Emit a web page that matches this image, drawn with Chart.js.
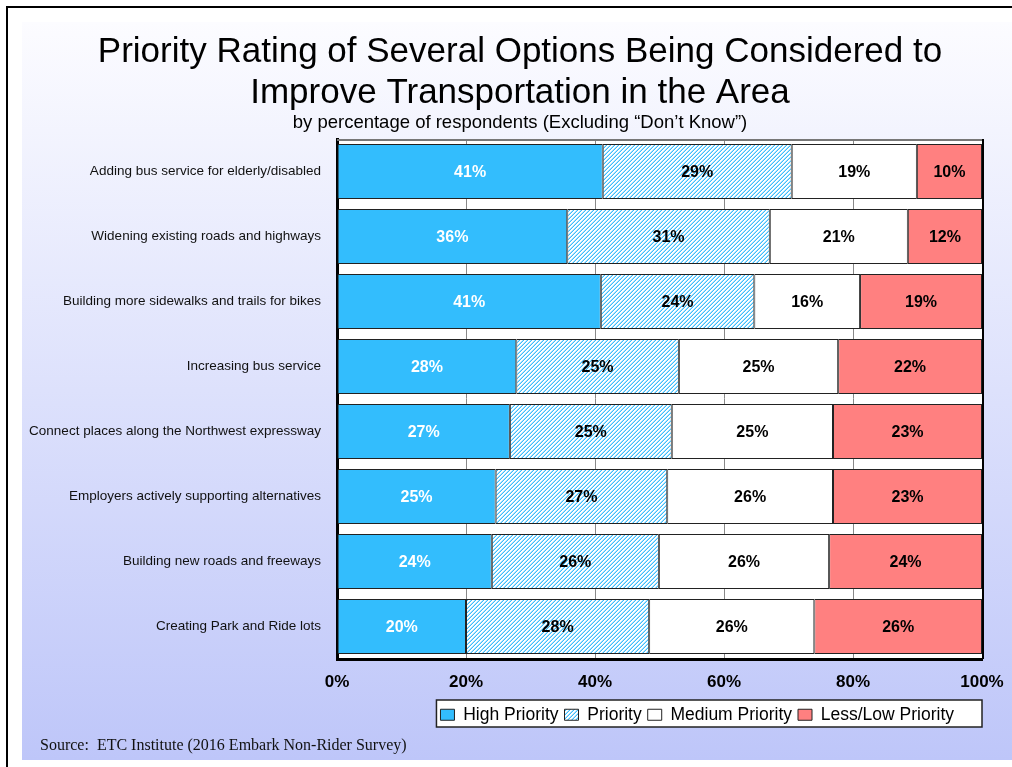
<!DOCTYPE html>
<html><head><meta charset="utf-8">
<script src="https://cdn.jsdelivr.net/npm/chart.js@4.4.1/dist/chart.umd.min.js"></script>
<style>html,body{margin:0;padding:0;background:#fff;}#wrap{width:1012px;height:767px;position:relative;}</style>
</head><body><div id="wrap"><canvas id="c" width="1012" height="767"></canvas></div>
<script>
const categories = [
  'Adding bus service for elderly/disabled',
  'Widening existing roads and highways',
  'Building more sidewalks and trails for bikes',
  'Increasing bus service',
  'Connect places along the Northwest expressway',
  'Employers actively supporting alternatives',
  'Building new roads and freeways',
  'Creating Park and Ride lots'
];
const highPriority   = [41.2, 35.7, 40.9, 27.8, 26.8, 24.6, 24.0, 20.0];
const priority       = [29.3, 31.4, 23.8, 25.2, 25.1, 26.6, 25.9, 28.4];
const mediumPriority = [19.4, 21.4, 16.4, 24.7, 25.0, 25.7, 26.4, 25.6];
const lowPriority    = [10.1, 11.5, 18.9, 22.3, 23.1, 23.1, 23.7, 26.0];
const seriesNames = ['High Priority', 'Priority', 'Medium Priority', 'Less/Low Priority'];
const xTickValues = [0, 20, 40, 60, 80, 100];
const titleLines = ['Priority Rating of Several Options Being Considered to', 'Improve Transportation in the Area'];
const subtitleText = 'by percentage of respondents (Excluding \u201cDon\u2019t Know\u201d)';
const sourceText = 'Source:  ETC Institute (2016 Embark Non-Rider Survey)';

const SANS = '"Liberation Sans", Arial, sans-serif';
const SERIF = '"Liberation Serif", "Times New Roman", serif';

function makeHatch() {
  const c = document.createElement('canvas');
  c.width = 4; c.height = 4;
  const x = c.getContext('2d');
  for (let i = 0; i < 4; i++) {
    for (let j = 0; j < 4; j++) {
      const k = (i + j) % 4;
      x.fillStyle = k === 3 ? '#3dbdfb' : (k === 2 ? '#a8e1ff' : '#ffffff');
      x.fillRect(i, j, 1, 1);
    }
  }
  return x.createPattern(c, 'repeat');
}
const hatch = makeHatch();

const bgPlugin = {
  id: 'bg',
  afterLayout(chart) {
    const lg = chart.legend;
    if (lg) { lg.right = 960; }
  },
  beforeDraw(chart) {
    const ctx = chart.ctx, W = chart.width, H = chart.height;
    ctx.save();
    ctx.fillStyle = '#fff'; ctx.fillRect(0, 0, W, H);
    const g = ctx.createLinearGradient(0, 22, 0, 760);
    g.addColorStop(0, '#fcfcff');
    g.addColorStop(1, '#bec6f9');
    ctx.fillStyle = g; ctx.fillRect(22, 22, W - 22, 738);
    ctx.strokeStyle = '#000'; ctx.lineWidth = 2;
    ctx.beginPath(); ctx.moveTo(7, H); ctx.lineTo(7, 7); ctx.lineTo(W, 7); ctx.stroke();
    const a = chart.chartArea;
    ctx.fillStyle = '#fff'; ctx.fillRect(a.left, a.top, a.right - a.left, a.bottom - a.top);
    const lg = chart.legend;
    if (lg && lg.legendHitBoxes && lg.legendHitBoxes.length) {
      const hb = lg.legendHitBoxes;
      const l = Math.min(...hb.map(h => h.left)) - 4;
      const r = a.right;
      ctx.fillStyle = '#fff';
      ctx.fillRect(l, lg.top, r - l, 27);
      ctx.strokeStyle = '#222'; ctx.lineWidth = 1.5;
      ctx.strokeRect(l, lg.top, r - l, 27);
    }
    ctx.restore();
  },
  afterDatasetsDraw(chart) {
    const ctx = chart.ctx, a = chart.chartArea;
    ctx.save();
    ctx.strokeStyle = '#777'; ctx.lineWidth = 2;
    ctx.beginPath(); ctx.moveTo(a.left, a.top + 1); ctx.lineTo(a.right, a.top + 1); ctx.stroke();
    ctx.strokeStyle = '#000'; ctx.lineWidth = 2;
    ctx.beginPath(); ctx.moveTo(a.right + 1, a.top); ctx.lineTo(a.right + 1, a.bottom); ctx.stroke();
    ctx.font = 'bold 16px ' + SANS;
    ctx.textAlign = 'center'; ctx.textBaseline = 'middle';
    chart.data.datasets.forEach((ds, di) => {
      const meta = chart.getDatasetMeta(di);
      meta.data.forEach((bar, i) => {
        ctx.fillStyle = di === 0 ? '#fff' : '#000';
        ctx.fillText(Math.round(ds.data[i]) + '%', (bar.x + bar.base) / 2, bar.y + 1);
      });
    });
    ctx.restore();
  },
  afterDraw(chart) {
    const ctx = chart.ctx;
    ctx.save();
    ctx.font = '16px ' + SERIF;
    ctx.fillStyle = '#111'; ctx.textAlign = 'left'; ctx.textBaseline = 'middle';
    ctx.fillText(sourceText, 40, 746);
    ctx.restore();
  }
};

const common = { borderColor: '#222', borderWidth: 1, borderSkipped: false, barPercentage: 55 / 65, categoryPercentage: 1 };
new Chart(document.getElementById('c'), {
  type: 'bar',
  data: {
    labels: categories,
    datasets: [
      Object.assign({ label: seriesNames[0], data: highPriority, backgroundColor: '#33bdfd' }, common),
      Object.assign({ label: seriesNames[1], data: priority, backgroundColor: hatch }, common),
      Object.assign({ label: seriesNames[2], data: mediumPriority, backgroundColor: '#ffffff' }, common),
      Object.assign({ label: seriesNames[3], data: lowPriority, backgroundColor: '#ff8080' }, common)
    ]
  },
  plugins: [bgPlugin],
  options: {
    indexAxis: 'y',
    responsive: false,
    animation: false,
    devicePixelRatio: 1,
    layout: { padding: { left: 58, right: 30, top: 0, bottom: 33.5 } },
    scales: {
      x: {
        stacked: true, min: 0, max: 100,
        afterBuildTicks(scale) { scale.ticks = xTickValues.map(v => ({ value: v })); },
        afterFit(scale) { scale.height = 41; },
        ticks: { callback: v => v + '%', font: { family: SANS, size: 17, weight: 'bold', lineHeight: 1.85 }, color: '#000', padding: 8, maxRotation: 0 },
        grid: { drawTicks: false, color: ctx => (ctx.tick && (ctx.tick.value === 0 || ctx.tick.value === 100)) ? 'rgba(0,0,0,0)' : '#888', lineWidth: 1 },
        border: { color: '#000', width: 3 }
      },
      y: {
        stacked: true,
        afterFit(scale) { scale.width = 337 - 58; },
        afterUpdate(scale) { scale._computeLabelArea = () => undefined; },
        ticks: { font: { family: SANS, size: 13.5 }, color: '#111', padding: 16 },
        grid: { display: false, drawTicks: false },
        border: { color: '#000', width: 3 }
      }
    },
    plugins: {
      title: { display: true, text: titleLines, color: '#000', font: { family: SANS, size: 35, weight: 'normal', lineHeight: 41 / 35 }, padding: { top: 32, bottom: 0 } },
      subtitle: { display: true, text: subtitleText, color: '#000', font: { family: SANS, size: 18.5, weight: 'normal', lineHeight: 1.0 }, padding: { top: 0, bottom: 6.5 } },
      legend: {
        position: 'bottom', align: 'end',
        labels: { font: { family: SANS, size: 17.5 }, color: '#000', boxWidth: 14, boxHeight: 11, padding: 6 }
      },
      tooltip: { enabled: false }
    }
  }
});
</script></body></html>
